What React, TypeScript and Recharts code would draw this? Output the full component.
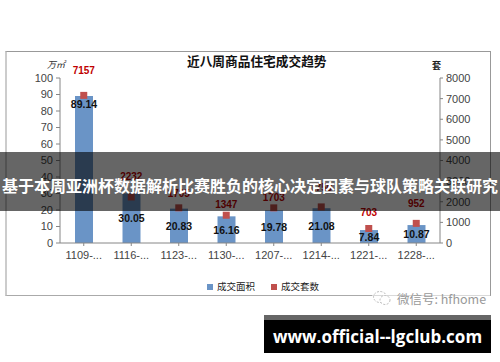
import {
    ComposedChart,
    Bar,
    Line,
    XAxis,
    YAxis,
    Legend,
    LabelList,
} from 'recharts'

const categories = ['1109-...', '1116-...', '1123-...', '1130-...', '1207-...', '1214-...', '1221-...', '1228-...']
const areaValues = [89.14, 30.05, 20.83, 16.16, 19.78, 21.08, 7.84, 10.87]
const unitValues = [7157, 2232, 1705, 1347, 1703, 1750, 703, 952]
const leftTicks = [0, 10, 20, 30, 40, 50, 60, 70, 80, 90, 100]
const rightTicks = [0, 1000, 2000, 3000, 4000, 5000, 6000, 7000, 8000]

const chartData = categories.map((name, i) => ({
    name,
    area: areaValues[i],
    units: unitValues[i],
}))

// how far each red label sits above its marker
const unitLabelLift = [25, 21, 15, 11, 11, 20, 17, 20]

const font = '"Liberation Sans", "Noto Sans CJK SC", sans-serif'
const cjk = '"Noto Sans CJK SC", sans-serif'
const tick = { fontSize: 11, fill: '#444', fontFamily: font }
const axisLine = { stroke: '#868686' }

function SquareDot({ cx, cy }: any) {
    return <rect x={cx - 3.5} y={cy - 3.5} width={7} height={7} fill="#C0504D" />
}

function AreaLabel({ x, y, width, height, index, value }: any) {
    // the first bar carries its label near the top, the others in the middle
    const labelY = index === 0 ? y + 8 : y + height / 2
    return (
        <text
            x={x + width / 2}
            y={labelY}
            dy={4}
            textAnchor="middle"
            fontSize={10.5}
            fontWeight="bold"
            fontFamily={font}
            fill="#111"
        >
            {value}
        </text>
    )
}

function UnitLabel({ x, y, index, value }: any) {
    return (
        <text
            x={x}
            y={y - unitLabelLift[index]}
            dy={4}
            textAnchor="middle"
            fontSize={10}
            fontWeight="bold"
            fontFamily={font}
            fill="#C00000"
        >
            {value}
        </text>
    )
}

function App() {
    return (
        <div style={{ position: 'fixed', left: 0, top: 0, width: 500, height: 362, background: '#fff', overflow: 'hidden' }}>
            <div
                style={{
                    position: 'absolute',
                    left: 5,
                    top: 51,
                    width: 483,
                    height: 243,
                    borderTop: '1px solid #999',
                    borderRight: '1px solid #999',
                    borderBottom: '1px solid #aaa',
                    borderLeft: '2px solid #ccc',
                }}
            />
            <div style={{ position: 'absolute', left: 187, top: 51, fontSize: 12.7, fontWeight: 'bold', fontFamily: cjk, color: '#111', whiteSpace: 'nowrap' }}>
                近八周商品住宅成交趋势
            </div>
            <div style={{ position: 'absolute', left: 47, top: 58, fontSize: 9, fontStyle: 'italic', fontFamily: cjk, color: '#333' }}>万㎡</div>
            <div style={{ position: 'absolute', left: 432, top: 59, fontSize: 9, fontWeight: 'bold', fontFamily: cjk, color: '#222' }}>套</div>

            <div style={{ position: 'absolute', left: 0, top: 0 }}>
                <ComposedChart
                    width={500}
                    height={362}
                    data={chartData}
                    margin={{ top: 78, right: 20, left: 20, bottom: 75 }}
                >
                    <XAxis
                        dataKey="name"
                        interval={0}
                        tick={tick}
                        tickLine={{ stroke: '#868686' }}
                        axisLine={axisLine}
                        tickSize={3}
                        tickMargin={5}
                    />
                    <YAxis
                        yAxisId="left"
                        width={40}
                        domain={[0, 100]}
                        ticks={leftTicks}
                        interval={0}
                        tick={tick}
                        tickLine={{ stroke: '#868686' }}
                        axisLine={axisLine}
                        tickSize={4}
                        tickMargin={3}
                    />
                    <YAxis
                        yAxisId="right"
                        orientation="right"
                        width={40}
                        domain={[0, 8000]}
                        ticks={rightTicks}
                        interval={0}
                        tick={tick}
                        tickLine={{ stroke: '#868686' }}
                        axisLine={axisLine}
                        tickSize={3}
                        tickMargin={3}
                    />
                    <Legend
                        iconType="square"
                        iconSize={6}
                        itemSorter="dataKey"
                        wrapperStyle={{ position: 'absolute', left: 206, top: 279, width: 130, height: 14, fontSize: 9.5, fontFamily: cjk, whiteSpace: 'nowrap' }}
                        formatter={(value) => <span style={{ color: '#222', marginRight: 6 }}>{value}</span>}
                    />
                    <Bar
                        yAxisId="left"
                        dataKey="area"
                        name="成交面积"
                        fill="#6A94C6"
                        barSize={18}
                        isAnimationActive={false}
                    >
                        <LabelList dataKey="area" content={AreaLabel} />
                    </Bar>
                    <Line
                        yAxisId="right"
                        dataKey="units"
                        name="成交套数"
                        stroke="#C0504D"
                        strokeWidth={0}
                        legendType="square"
                        dot={<SquareDot />}
                        isAnimationActive={false}
                    >
                        <LabelList dataKey="units" content={UnitLabel} />
                    </Line>
                </ComposedChart>
            </div>

            <div style={{ position: 'absolute', left: 372, top: 288, width: 118, height: 20, display: 'flex', alignItems: 'center', background: 'rgba(255,255,255,0.55)' }}>
                <svg width={20} height={18} viewBox="0 0 20 18">
                    <ellipse cx={8} cy={8} rx={6.5} ry={5.5} fill="none" stroke="#bbb" strokeWidth={1} strokeDasharray="2 1.5" />
                    <ellipse cx={13} cy={11} rx={5} ry={4.5} fill="#fff" stroke="#bbb" strokeWidth={1} strokeDasharray="2 1.5" />
                </svg>
                <span style={{ marginLeft: 5, fontSize: 12.5, fontFamily: cjk, color: '#999', whiteSpace: 'nowrap' }}>微信号: hfhome</span>
            </div>

            <div
                style={{
                    position: 'absolute',
                    left: 0,
                    top: 152,
                    width: 500,
                    height: 59,
                    background: 'rgba(0,0,0,0.6)',
                    color: '#fff',
                    fontSize: 16,
                    fontWeight: 'bold',
                    fontFamily: cjk,
                    lineHeight: '66px',
                    textAlign: 'center',
                    whiteSpace: 'nowrap',
                }}
            >
                基于本周亚洲杯数据解析比赛胜负的核心决定因素与球队策略关联研究
            </div>

            <div
                style={{
                    position: 'absolute',
                    left: 264,
                    top: 315,
                    width: 227,
                    height: 38,
                    background: '#000',
                    borderTop: '5px solid #666',
                    boxSizing: 'border-box',
                    color: '#fff',
                    fontSize: 17,
                    fontWeight: 'bold',
                    fontFamily: '"Open Sans", sans-serif',
                    lineHeight: '33px',
                    textAlign: 'center',
                    whiteSpace: 'nowrap',
                }}
            >
                www.official--lgclub.com
            </div>
        </div>
    )
}

export default App
